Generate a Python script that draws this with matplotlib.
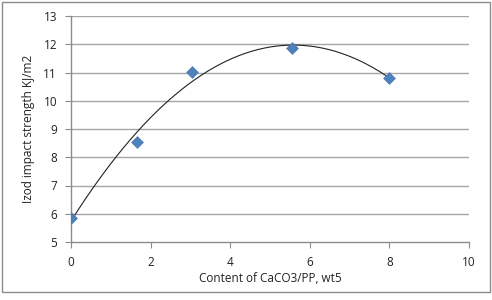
import numpy as np
import matplotlib
matplotlib.use("Agg")
import matplotlib.pyplot as plt
from matplotlib.patches import Rectangle

content = [0.0, 1.67, 3.05, 5.55, 8.0]
strength = [5.85, 8.55, 11.02, 11.88, 10.82]
xticks = [0, 2, 4, 6, 8, 10]
yticks = [5, 6, 7, 8, 9, 10, 11, 12, 13]

plt.rcParams['font.family'] = ['Open Sans', 'DejaVu Sans']

fig = plt.figure(figsize=(4.92, 3.0), dpi=100)
ax = fig.add_axes([71/492, 1-242/300, (469-71)/492, (242-16)/300])

fig.patches.append(Rectangle((2/492, 1-292/300), 488/492, 290/300, transform=fig.transFigure,
                             fill=False, edgecolor='#8c8c8c', linewidth=1.0))

for y in yticks[1:]:
    ax.axhline(y, color='#a6a6a6', linewidth=1.0, zorder=0)

coef = np.polyfit(content, strength, 2)
xs = np.linspace(min(content), max(content), 200)
ax.plot(xs, np.polyval(coef, xs), color='#222222', linewidth=0.8, zorder=2)

ax.scatter(content, strength, marker='D', s=36, color='#4f81bd', edgecolors='#4a7ab5',
           linewidths=0.5, zorder=3)

ax.set_xlim(0, 10)
ax.set_ylim(5, 13)
ax.set_xticks(xticks)
ax.set_yticks(yticks)
for s in ['top', 'right']:
    ax.spines[s].set_visible(False)
for s in ['left', 'bottom']:
    ax.spines[s].set_color('#8c8c8c')
    ax.spines[s].set_linewidth(1.0)
ax.tick_params(axis='both', direction='out', length=4, color='#8c8c8c', labelsize=8.5,
               labelcolor='#222222', pad=6)
ax.set_xlabel('Content of CaCO3/PP, wt5', fontsize=8.5, color='#222222', labelpad=2)
ax.set_ylabel('Izod impact strength KJ/m2', fontsize=8.5, color='#222222', labelpad=6)

fig.savefig('out.png', dpi=100)
